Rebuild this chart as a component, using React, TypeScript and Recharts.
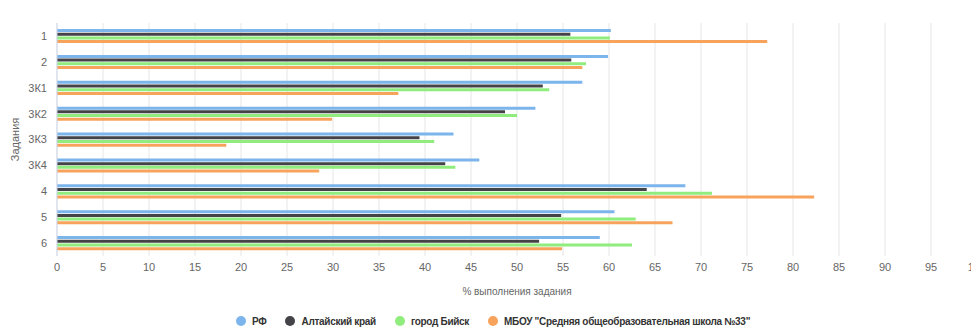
import { BarChart, Bar, XAxis, YAxis, CartesianGrid, Legend } from "recharts";

const tasks = ["1", "2", "3К1", "3К2", "3К3", "3К4", "4", "5", "6"];
const rf = [60.2, 59.9, 57.1, 52.0, 43.1, 45.9, 68.3, 60.6, 59.0];
const altai = [55.8, 55.9, 52.8, 48.7, 39.4, 42.2, 64.1, 54.8, 52.4];
const biysk = [60.1, 57.5, 53.5, 50.0, 41.0, 43.3, 71.2, 62.9, 62.5];
const mbou = [77.2, 57.1, 37.1, 29.9, 18.4, 28.5, 82.3, 66.9, 54.9];
const xTicks = [0, 5, 10, 15, 20, 25, 30, 35, 40, 45, 50, 55, 60, 65, 70, 75, 80, 85, 90, 95, 100];

const series = [
  { key: "rf", name: "РФ", color: "#7cb5ec" },
  { key: "altai", name: "Алтайский край", color: "#434348" },
  { key: "biysk", name: "город Бийск", color: "#90ed7d" },
  { key: "mbou", name: 'МБОУ "Средняя общеобразовательная школа №33"', color: "#f7a35c" },
];

const data = tasks.map((task, i) => ({
  task,
  rf: rf[i],
  altai: altai[i],
  biysk: biysk[i],
  mbou: mbou[i],
}));

const font = '"Liberation Sans", Arial, sans-serif';

function LegendRow() {
  return (
    <div
      style={{
        display: "flex",
        alignItems: "center",
        gap: 19,
        height: 16,
        whiteSpace: "nowrap",
        fontFamily: font,
        fontSize: 10,
        letterSpacing: -0.3,
        fontWeight: "bold",
        color: "#333",
      }}
    >
      {series.map((s) => (
        <div key={s.key} style={{ display: "flex", alignItems: "center", gap: 6 }}>
          <span style={{ width: 10, height: 10, borderRadius: "50%", background: s.color, display: "inline-block" }} />
          <span>{s.name}</span>
        </div>
      ))}
    </div>
  );
}

export default function App() {
  return (
    <div style={{ position: "fixed", top: 0, left: 0, width: 971, height: 331, overflow: "hidden", background: "#fff" }}>
      <BarChart
        width={990}
        height={331}
        data={data}
        layout="vertical"
        margin={{ top: 23, right: 13, bottom: 15, left: 0 }}
        barSize={3}
        barGap={0.7}
      >
        <CartesianGrid horizontal={false} stroke="#e6e6e6" />
        <XAxis
          type="number"
          domain={[0, 100]}
          ticks={xTicks}
          interval={0}
          tickLine={false}
          axisLine={false}
          tickSize={0}
          tickMargin={7}
          height={44}
          tick={{ fill: "#666", fontSize: 11, fontFamily: font }}
          label={{ value: "% выполнения задания", position: "insideBottom", offset: 5, fill: "#666", fontSize: 10, fontFamily: font }}
        />
        <YAxis
          type="category"
          dataKey="task"
          width={57}
          tickLine={false}
          tickSize={0}
          tickMargin={10}
          axisLine={{ stroke: "#ccd6eb" }}
          tick={{ fill: "#666", fontSize: 11, fontFamily: font }}
          label={{ value: "Задания", angle: -90, position: "center", dx: -13.5, fill: "#666", fontSize: 11, fontFamily: font }}
        />
        {series.map((s) => (
          <Bar key={s.key} dataKey={s.key} name={s.name} fill={s.color} isAnimationActive={false} />
        ))}
        <Legend
          verticalAlign="bottom"
          content={() => <LegendRow />}
          wrapperStyle={{ left: 236, bottom: 2, width: 560, height: 16 }}
        />
      </BarChart>
    </div>
  );
}
